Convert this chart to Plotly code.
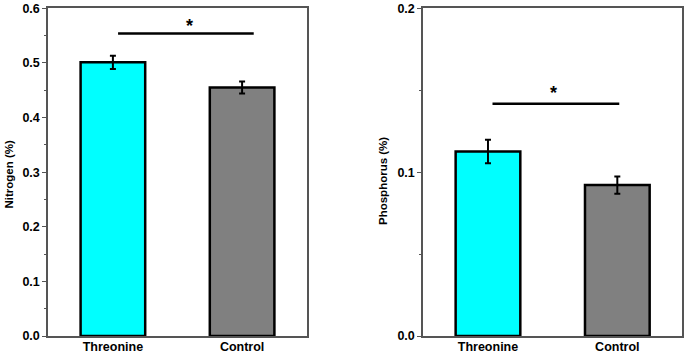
import plotly.graph_objects as go

categories = ["Threonine", "Control"]
bar_colors = ["#00FFFF", "#808080"]

nitrogen = [0.501, 0.455]
nitrogen_err = [0.012, 0.011]
phosphorus = [0.1126, 0.0921]
phosphorus_err = [0.0071, 0.0053]

# significance bracket: [x0, x1, y] in axis units, star position [x, y]
nitro_sig = [0.04, 1.09, 0.554]
nitro_star = [0.59, 0.568]
phos_sig = [0.035, 1.015, 0.1418]
phos_star = [0.51, 0.1485]

W, H = 685, 354
ydom = [1 - 336 / H, 1 - 8.3 / H]
x1dom = [48.3 / W, 306.7 / W]
x2dom = [423.3 / W, 682 / W]

FONT = "Liberation Sans, Arial, sans-serif"

fig = go.Figure()
fig.add_trace(go.Bar(
    x=categories, y=nitrogen, width=0.5,
    marker=dict(color=bar_colors, line=dict(color="black", width=2.5)),
    error_y=dict(type="data", array=nitrogen_err, color="black", thickness=2, width=3),
    xaxis="x", yaxis="y", showlegend=False))
fig.add_trace(go.Bar(
    x=categories, y=phosphorus, width=0.5,
    marker=dict(color=bar_colors, line=dict(color="black", width=2.5)),
    error_y=dict(type="data", array=phosphorus_err, color="black", thickness=2, width=3),
    xaxis="x2", yaxis="y2", showlegend=False))

axis_common = dict(showline=True, linecolor="#555", linewidth=2, mirror=True,
                   showgrid=False, zeroline=False, automargin=False,
                   tickfont=dict(family=FONT, size=12.5, color="black", weight="bold"))

fig.update_layout(
    width=W, height=H, margin=dict(l=0, r=0, t=0, b=0, autoexpand=False),
    paper_bgcolor="white", plot_bgcolor="white",
    xaxis=dict(domain=x1dom, anchor="y", range=[-0.5, 1.5], ticks="",
               ticklabelstandoff=-2, **axis_common),
    yaxis=dict(domain=ydom, anchor="x", range=[0, 0.6], dtick=0.1, tickformat=".1f",
               ticks="outside", ticklen=4, tickwidth=1, tickcolor="#555",
               minor=dict(dtick=0.05, ticks="outside", ticklen=2, tickcolor="#555"),
               **axis_common),
    xaxis2=dict(domain=x2dom, anchor="y2", range=[-0.5, 1.5], ticks="",
                ticklabelstandoff=-2, **axis_common),
    yaxis2=dict(domain=ydom, anchor="x2", range=[0, 0.2], dtick=0.1, tickformat=".1f",
                ticks="outside", ticklen=4, tickwidth=1, tickcolor="#555",
                minor=dict(dtick=0.05, ticks="outside", ticklen=2, tickcolor="#555"),
                **axis_common),
)

fig.add_shape(type="line", xref="x", yref="y", x0=nitro_sig[0], x1=nitro_sig[1],
              y0=nitro_sig[2], y1=nitro_sig[2], line=dict(color="black", width=2.5))
fig.add_shape(type="line", xref="x2", yref="y2", x0=phos_sig[0], x1=phos_sig[1],
              y0=phos_sig[2], y1=phos_sig[2], line=dict(color="black", width=2.5))

fig.add_annotation(x=nitro_star[0], y=nitro_star[1], xref="x", yref="y", text="*",
                   showarrow=False, font=dict(family=FONT, size=18, color="black", weight="bold"))
fig.add_annotation(x=phos_star[0], y=phos_star[1], xref="x2", yref="y2", text="*",
                   showarrow=False, font=dict(family=FONT, size=18, color="black", weight="bold"))

fig.add_annotation(x=8.5 / W, y=1 - 174 / H, xref="paper", yref="paper", text="Nitrogen (%)",
                   textangle=-90, showarrow=False, xanchor="center", yanchor="middle",
                   font=dict(family=FONT, size=11.5, color="black", weight="bold"))
fig.add_annotation(x=383 / W, y=1 - 181 / H, xref="paper", yref="paper", text="Phosphorus (%)",
                   textangle=-90, showarrow=False, xanchor="center", yanchor="middle",
                   font=dict(family=FONT, size=11.5, color="black", weight="bold"))

fig.write_html(
    "out.html",
    config={"displayModeBar": False},
    post_script="document.body.style.margin='0';document.body.style.overflow='hidden';",
)
